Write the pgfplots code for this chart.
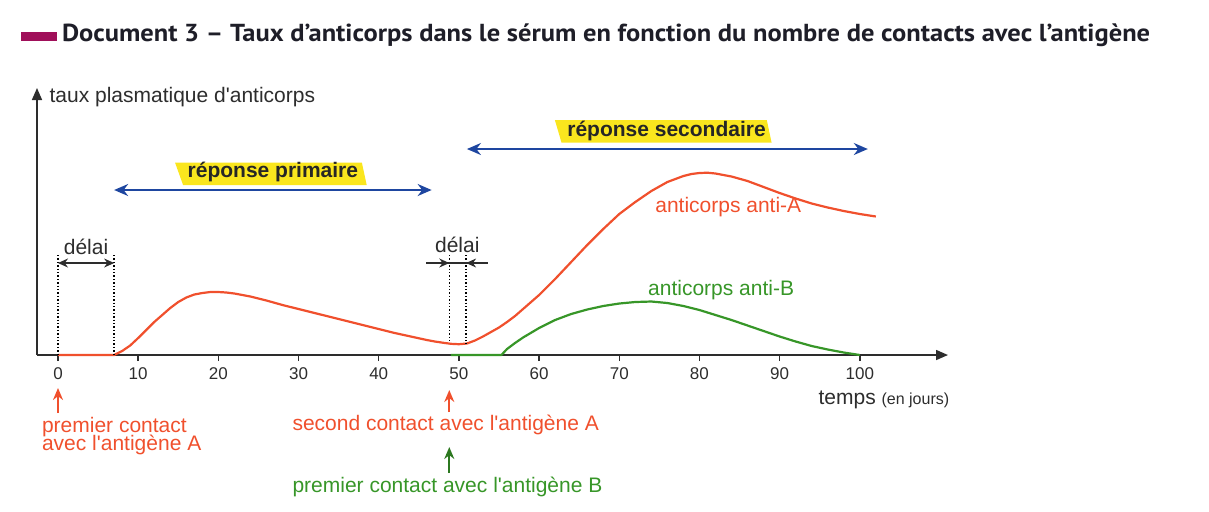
\documentclass[border=0pt]{standalone}
\usepackage{pgfplots}
\pgfplotsset{compat=1.18}
\usepackage{fontspec}
\setmainfont{Liberation Sans}
\newfontfamily\titlefont{PT Sans}
\usetikzlibrary{arrows.meta}
\definecolor{curveA}{RGB}{240,80,45}
\definecolor{curveB}{RGB}{55,150,40}
\definecolor{arrblue}{RGB}{30,70,160}
\definecolor{hiyellow}{RGB}{250,230,30}
\definecolor{barmag}{RGB}{160,15,90}
\definecolor{titlecol}{RGB}{30,30,40}
\definecolor{axcol}{RGB}{45,45,45}
\newcommand{\txt}{\fontsize{10.5}{12}\selectfont}
\newcommand{\q}{\textquotesingle}
\begin{document}
\begin{tikzpicture}[x=1pt,y=1pt]
\useasboundingbox (0,0) rectangle (604.5,-255.5);
\fill[barmag] (10.5,-16.15) rectangle (28.35,-20.5);
\node[anchor=base west, inner sep=0, text=titlecol] at (30.8,-20.85) {\resizebox{544pt}{\height}{\titlefont\bfseries\fontsize{12.3}{14}\selectfont Document 3 – Taux d’anticorps dans le sérum en fonction du nombre de contacts avec l’antigène}};
\begin{axis}[at={(18.5pt,-177.5pt)}, anchor=south west, scale only axis,
  width=455.5pt, height=133.5pt, xmin=-2.62, xmax=111, ymin=0, ymax=267,
  axis lines=left,
  axis line style={axcol, line width=0.8pt, -{Triangle[length=6pt,width=5pt]}},
  xtick={0,10,...,100}, ytick=\empty, tick align=outside, major tick length=3pt,
  xtick style={axcol, line width=0.7pt},
  /pgf/number format/assume math mode=true,
  xticklabel style={font=\fontsize{8.5}{10}\selectfont, text=axcol},
  clip=false]
\addplot[curveB, line width=1.1pt, line join=round] table {
49 0
55.3 0
56 6
57 12
58 17.5
60 27
62 35
64 41
66 45.5
68 49
70 51.5
72 53
74 53.5
76 52
78 49
80 45
82 40
84 35
86 29.5
88 24
90 18.5
92 13.5
94 9
96 5.5
98 2.5
100 0
};
\addplot[curveA, line width=1.1pt, line join=round] table {
0 0
7 0
8 4
9 9.5
10 17
11 25
12 33
13 40
14 47
15 53
16 57.5
17 60.5
18 62
19 63
20 63
21 62.5
22 61.5
24 58.5
26 54.5
28 50
30 46
32 42
34 38
36 34
38 30
40 26
42 22
44 18.5
46 15
47 13.5
48 12.3
49 11.2
50 10.8
51 11.5
52 14.5
53 18.5
54 23
55 27.5
56 33
57 39
58 46
59 53
60 60
62 76
64 93
66 110
68 126
70 141
72 153
74 164
76 173
78 179
79 181
80 182
81 182.3
82 181.5
84 178.5
86 174
88 168
90 162
92 156.5
94 151.5
96 147.5
98 144
100 141
102 138.5
};
% dotted lines
\draw[densely dotted, line width=0.7pt] (0,100) -- (0,0);
\draw[densely dotted, line width=0.7pt] (7,100) -- (7,0);
\draw[densely dotted, line width=0.7pt] (48.8,100) -- (48.8,12);
\draw[densely dotted, line width=0.7pt] (50.9,100) -- (50.9,11.2);
% delai arrows
\draw[axcol, line width=0.6pt, {Stealth[length=5pt,width=4.5pt]}-{Stealth[length=5pt,width=4.5pt]}] (0,92) -- (7,92);
\draw[axcol, line width=0.6pt] (45.9,92) -- (53.6,92);
\draw[axcol, line width=0.6pt, -{Stealth[length=5pt,width=4.5pt]}] (45.9,92) -- (48.8,92);
\draw[axcol, line width=0.6pt, -{Stealth[length=5pt,width=4.5pt]}] (53.6,92) -- (50.9,92);
\node[font=\txt, text=axcol] at (3.5,108) {délai};
\node[font=\txt, text=axcol] at (49.8,110) {délai};
% blue arrows
\draw[arrblue, line width=1pt, {Stealth[length=7pt,width=6pt]}-{Stealth[length=7pt,width=6pt]}] (7,165) -- (46.6,165);
\draw[arrblue, line width=1pt, {Stealth[length=7pt,width=6pt]}-{Stealth[length=7pt,width=6pt]}] (51,206) -- (101,206);
% yellow boxes
\fill[hiyellow] (14.6,192.3) -- (37.9,192.3) -- (38.5,170) -- (15.6,170) -- cycle;
\node[font=\bfseries\txt, text=black!85] at (26.8,183.3) {réponse primaire};
\fill[hiyellow] (61.97,235) -- (88.4,235) -- (89.0,212.3) -- (62.8,212.3) -- cycle;
\node[font=\bfseries\txt, text=black!85] at (75.9,224.3) {réponse secondaire};
% curve labels
\node[font=\txt, text=curveA] at (83.6,148) {anticorps anti-A};
\node[font=\txt, text=curveB] at (82.7,65) {anticorps anti-B};
% y label
\node[font=\txt, text=axcol, anchor=west, inner sep=0] at (-1.1,258) {taux plasmatique d\q anticorps};
% bottom
\node[font=\txt, text=axcol, anchor=east, inner sep=0] at (111.2,-45) {temps {\fontsize{8}{9}\selectfont (en jours)}};
\draw[curveA, line width=1pt, -{Stealth[length=6pt,width=5pt]}] (0,-58) -- (0,-33);
\draw[curveA, line width=1pt, -{Stealth[length=6pt,width=5pt]}] (48.8,-57) -- (48.8,-35);
\draw[curveB!80!black, line width=1pt, -{Stealth[length=6pt,width=5pt]}] (48.8,-118) -- (48.8,-92);
\node[font=\txt, text=curveA, anchor=west, inner sep=0] at (-2.04,-71.7) {premier contact};
\node[font=\txt, text=curveA, anchor=west, inner sep=0] at (-2.04,-90) {avec l\q antigène A};
\node[font=\txt, text=curveA, anchor=west, inner sep=0] at (29.2,-70) {second contact avec l\q antigène A};
\node[font=\txt, text=curveB, anchor=west, inner sep=0] at (29.2,-132) {premier contact avec l\q antigène B};
\end{axis}
\end{tikzpicture}
\end{document}
